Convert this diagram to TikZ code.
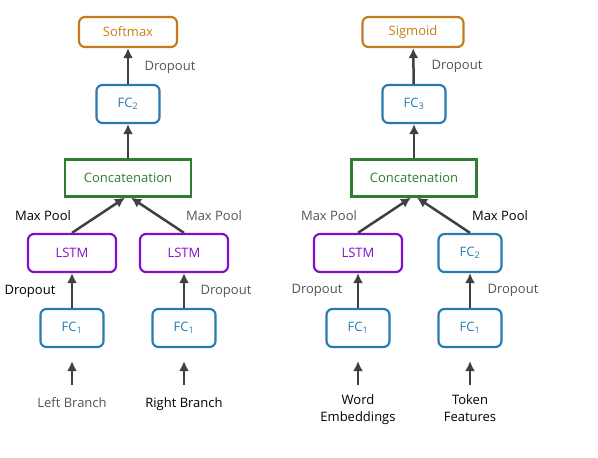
\documentclass[tikz,border=0pt]{standalone}
\usepackage{fontspec}
\setmainfont{Open Sans}
\usepackage{xcolor}
\usetikzlibrary{positioning,arrows.meta}

\definecolor{outcol}{RGB}{196,124,26}
\definecolor{fccol}{RGB}{38,124,176}
\definecolor{catcol}{RGB}{46,125,50}
\definecolor{lstmcol}{RGB}{128,16,200}
\definecolor{arrcol}{RGB}{64,64,64}
\definecolor{lblgray}{RGB}{85,85,85}

\tikzset{
  block/.style={draw, line width=2.2pt, rounded corners=6pt, minimum height=38pt, inner sep=2pt},
  outblock/.style={block, draw=outcol, text=outcol, minimum height=30pt},
  fcblock/.style={block, draw=fccol, text=fccol, minimum width=63pt},
  lstmblock/.style={block, draw=lstmcol, text=lstmcol, minimum width=88pt},
  catblock/.style={block, rounded corners=0pt, draw=catcol, text=catcol, minimum width=126pt, minimum height=37pt},
  lbl/.style={text=lblgray},
  lblk/.style={text=black},
  inlbl/.style={anchor=north, align=center, inner sep=2pt},
  arr/.style={-{Latex[length=10pt,width=10pt]}, color=arrcol, line width=2.5pt},
}

\begin{document}
\begin{tikzpicture}[x=1pt,y=-1pt,font=\fontsize{13}{17}\selectfont]
\useasboundingbox (0,0) rectangle (598,458);

% left network
\node[outblock, minimum width=98pt] (smax) at (128,32) {Softmax};
\node[fcblock] (fcTwoL) at (128,104) {FC\textsubscript{2}};
\node[catblock] (catL) at (128,178) {Concatenation};
\node[lstmblock] (lstmA) at (72,253) {LSTM};
\node[lstmblock] (lstmB) at (184,253) {LSTM};
\node[fcblock] (fcA) at (72,328) {FC\textsubscript{1}};
\node[fcblock] (fcB) at (184,328) {FC\textsubscript{1}};
\node[inlbl, lbl] (inA) at (72,395) {Left Branch};
\node[inlbl, lblk] (inB) at (184,395) {Right Branch};

\node[lbl] (dropTopL) at (170,67) {Dropout};
\node[lblk] (poolA) at (43,216) {Max Pool};
\node[lbl] (poolB) at (214,216) {Max Pool};
\node[lblk] (dropA) at (30,291) {Dropout};
\node[lbl] (dropB) at (226,291) {Dropout};

\draw[arr] (fcTwoL) -- (smax);
\draw[arr] (catL) -- (fcTwoL);
\draw[arr] (lstmA.north) -- ([xshift=-3pt]catL.south);
\draw[arr] (lstmB.north) -- ([xshift=3pt]catL.south);
\draw[arr] (fcA) -- (lstmA);
\draw[arr] (fcB) -- (lstmB);
\draw[arr, shorten <=10pt, shorten >=13pt] (inA.north) -- (fcA.south);
\draw[arr, shorten <=10pt, shorten >=13pt] (inB.north) -- (fcB.south);

% right network
\node[outblock, minimum width=101pt] (sigm) at (413,32) {Sigmoid};
\node[fcblock] (fcThree) at (414,104) {FC\textsubscript{3}};
\node[catblock, minimum width=125pt] (catR) at (414,178) {Concatenation};
\node[lstmblock] (lstmW) at (358,253) {LSTM};
\node[fcblock] (fcTwoR) at (470,253) {FC\textsubscript{2}};
\node[fcblock] (fcW) at (358,328) {FC\textsubscript{1}};
\node[fcblock] (fcT) at (470,328) {FC\textsubscript{1}};
\node[inlbl, lblk] (inW) at (358,392) {Word\\Embeddings};
\node[inlbl, lblk] (inT) at (470,392) {Token\\Features};

\node[lbl] (dropTopR) at (457,66) {Dropout};
\node[lbl] (poolW) at (329,216) {Max Pool};
\node[lblk] (poolT) at (500,216) {Max Pool};
\node[lbl] (dropW) at (317,290) {Dropout};
\node[lbl] (dropT) at (513,290) {Dropout};

\draw[arr] (fcThree) -- (sigm);
\draw[arr] (catR) -- (fcThree);
\draw[arr] (lstmW.north) -- ([xshift=-3pt]catR.south);
\draw[arr] (fcTwoR.north) -- ([xshift=3pt]catR.south);
\draw[arr] (fcW) -- (lstmW);
\draw[arr] (fcT) -- (fcTwoR);
\draw[arr, shorten <=7pt, shorten >=13pt] (inW.north) -- (fcW.south);
\draw[arr, shorten <=7pt, shorten >=13pt] (inT.north) -- (fcT.south);
\end{tikzpicture}
\end{document}
